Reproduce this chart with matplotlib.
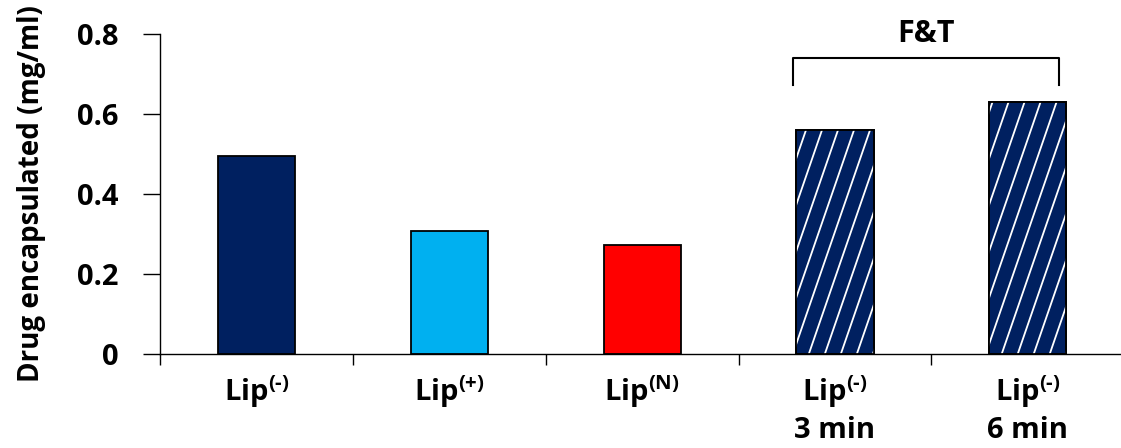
import numpy as np
import matplotlib.pyplot as plt

plt.rcParams['font.family'] = 'Open Sans'
plt.rcParams['font.weight'] = 'bold'
plt.rcParams['mathtext.fontset'] = 'custom'
plt.rcParams['mathtext.rm'] = 'Open Sans:bold'
plt.rcParams['mathtext.bf'] = 'Open Sans:bold'
plt.rcParams['mathtext.default'] = 'bf'

labels = [r'Lip$^{(\text{-})}$', r'Lip$^{(+)}$', r'Lip$^{(N)}$',
          'Lip$^{(\\text{-})}$\n3 min', 'Lip$^{(\\text{-})}$\n6 min']
values = [0.495, 0.308, 0.272, 0.560, 0.629]
colors = ['#002060', '#00B0F0', '#FF0000', '#002060', '#002060']
hatched = [False, False, False, True, True]
group_label = 'F&T'

fig = plt.figure(figsize=(11.21, 4.48), dpi=100)
ax = fig.add_axes([0.1427, 0.2098, 0.8603, 0.7142])

x = np.arange(len(values))
bars = ax.bar(x, values, width=0.4, color=colors, edgecolor='black', linewidth=1.3, zorder=2)

# steep white stripes on the F&T bars
for b, h in zip(bars, hatched):
    if not h:
        continue
    x0 = b.get_x()
    for s in np.arange(x0 - 0.6, x0 + 0.5, 0.083):
        ln, = ax.plot([s, s + 0.572], [0, 0.8], color='white', lw=1.3, zorder=3)
        ln.set_clip_path(b)
    ax.bar(b.get_x() + b.get_width() / 2, b.get_height(), width=0.4, fill=False,
           edgecolor='black', linewidth=1.3, zorder=4)

ax.set_xlim(-0.5, len(values) - 0.5)
ax.set_ylim(0, 0.8)
ax.set_yticks([0, 0.2, 0.4, 0.6, 0.8])
ax.set_yticklabels(['0', '0.2', '0.4', '0.6', '0.8'])
ax.set_xticks(np.arange(-0.5, len(values), 1.0))
ax.set_xticklabels([])
ax.set_xticks(x, minor=True)
ax.set_xticklabels(labels, minor=True, fontsize=21, fontweight='bold', linespacing=1.25)
ax.tick_params(axis='x', which='major', direction='out', length=8, width=1)
ax.tick_params(axis='x', which='minor', length=0, pad=14)
ax.tick_params(axis='y', direction='out', length=12, width=1, labelsize=21, pad=18)
for t in ax.get_yticklabels():
    t.set_fontweight('bold')

for side in ['top', 'right']:
    ax.spines[side].set_visible(False)
ax.spines['left'].set_linewidth(1)
ax.spines['bottom'].set_linewidth(1)

ax.set_ylabel('Drug encapsulated (mg/ml)', fontsize=20, fontweight='bold', labelpad=22)

# bracket over the F&T group
bx0, bx1, by0, by1 = 2.78, 4.16, 0.672, 0.74
ax.plot([bx0, bx0, bx1, bx1], [by0, by1, by1, by0], color='black', lw=1.5,
        clip_on=False, solid_joinstyle='round')
ax.text((bx0 + bx1) / 2, 0.80, group_label, ha='center', va='center', fontsize=22,
        fontweight='bold', clip_on=False)

fig.savefig('out.png', dpi=100)
